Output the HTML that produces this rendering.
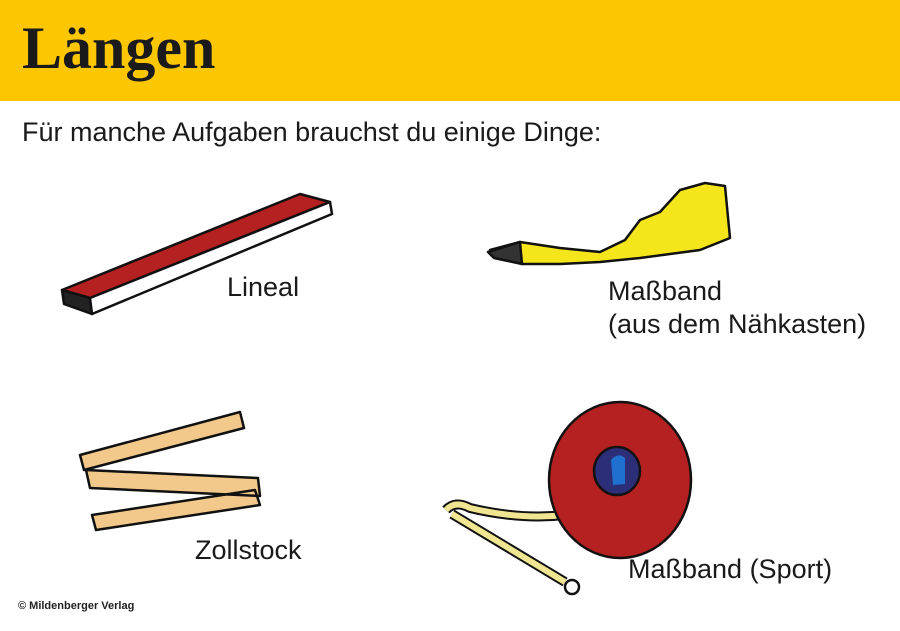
<!DOCTYPE html>
<html><head><meta charset="utf-8"><style>
body{margin:0;width:900px;height:631px;background:#fff;position:relative;overflow:hidden;font-family:"Liberation Sans",sans-serif}
.hd{position:absolute;left:0;top:0;width:900px;height:101px;background:#fcc600}
.t{position:absolute;left:22px;top:14px;font-family:"Liberation Serif",serif;font-weight:bold;font-size:60px;color:#1a1a1a}
.l{position:absolute;font-size:27px;color:#1a1a1a;line-height:33px}
</style></head><body>
<div class="hd"></div>
<div class="t">Längen</div>
<div class="l" style="left:22px;top:116px">Für manche Aufgaben brauchst du einige Dinge:</div>
<div class="l" style="left:227px;top:271px">Lineal</div>
<div class="l" style="left:608px;top:275px">Maßband<br>(aus dem Nähkasten)</div>
<div class="l" style="left:195px;top:534px">Zollstock</div>
<div class="l" style="left:628px;top:553px">Maßband (Sport)</div>
<div style="position:absolute;left:18px;top:600px;font-size:11px;font-weight:bold;color:#222">© Mildenberger Verlag</div>
<svg width="900" height="631" style="position:absolute;left:0;top:0">
<g stroke="#111" stroke-width="2.5" stroke-linejoin="round">
<polygon points="62,290 300,194 330,202 90,298" fill="#b52020"/>
<polygon points="62,290 90,298 92,314 64,304" fill="#222"/>
<polygon points="90,298 330,202 332,214 92,314" fill="#fff"/>
<path d="M490,250 L520,242 L560,248 L600,252 L625,240 L640,220 L660,212 L680,190 L705,183 L725,186 L730,238 L700,250 L640,258 L600,262 L560,264 L522,264 Z" fill="#f5e61c"/>
<polygon points="488,252 520,242 522,264 494,258" fill="#333"/>
<path d="M80,455 L240,412 L244,428 L84,470 Z M86,470 L258,478 L260,496 L90,488 Z M92,515 L255,490 L260,505 L96,530 Z" fill="#f2c98a"/>
<path d="M446,510 Q455,500 470,508 Q520,520 565,515 M452,514 L565,582" fill="none" stroke="#111" stroke-width="10"/>
<path d="M446,510 Q455,500 470,508 Q520,520 565,515 M452,514 L565,582" fill="none" stroke="#f0e590" stroke-width="6"/>
<circle cx="572" cy="587" r="7" fill="#fff"/>
<ellipse cx="620" cy="480" rx="71" ry="78" fill="#b52020"/>
<ellipse cx="617" cy="471" rx="23" ry="24" fill="#2c2f78"/>
</g>
<path d="M611,460 Q618,452 625,458 L625,484 L613,485 Z" fill="#2070d0"/>
</svg>
</body></html>
